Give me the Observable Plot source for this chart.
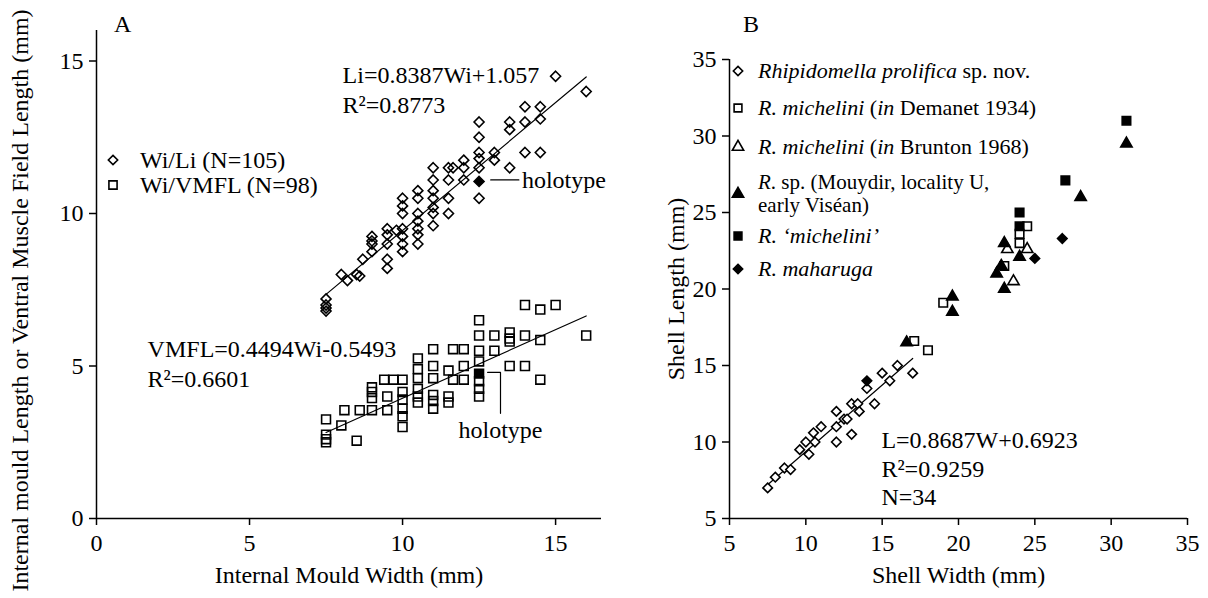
<!DOCTYPE html>
<html><head><meta charset="utf-8">
<script src="https://cdn.jsdelivr.net/npm/d3@7"></script>
<script src="https://cdn.jsdelivr.net/npm/@observablehq/plot@0.6"></script>
<style>
body{margin:0;background:#fff;}
#wrap{position:relative;width:1208px;height:598px;overflow:hidden;font-family:"Liberation Serif","Times New Roman",serif;color:#000;background:#fff;}
#wrap > svg{position:absolute;top:0;}
.t{position:absolute;white-space:nowrap;}
.sym{position:absolute;overflow:visible;}
</style></head><body><div id="wrap"></div>
<script>
// ---------- Panel A data: internal mould width vs length / VMFL ----------
const wiLi = [
[7.5,7.2],[7.5,7.0],[7.5,6.9],[7.5,6.8],
[8,8],[8.2,7.8],[8.5,8],[8.6,7.95],[8.7,8.5],
[9,9.25],[9,9.1],[9,9],[9,8.75],
[9.5,9.5],[9.5,9.3],[9.5,9],[9.5,8.5],[9.5,8.2],
[9.8,9.45],
[10,10.5],[10,10.25],[10,10],[10,9.5],[10,9.25],[10,9],[10,8.75],
[10.5,10.75],[10.5,10.5],[10.5,10],[10.5,9.75],[10.5,9.5],[10.5,9.3],[10.5,9],
[11,11.5],[11,11.1],[11,10.75],[11,10.5],[11,10.2],[11,10],[11,9.6],
[11.5,11.5],[11.5,11.1],[11.5,10.5],[11.5,10],[11.65,11.5],
[12,11.75],[12,11.5],[12,11.1],
[12.5,13],[12.5,12.5],[12.5,12],[12.5,11.8],[12.5,11.5],[12.5,10.5],
[13,12],[13,11.75],
[13.5,13],[13.5,12.75],[13.5,11.5],
[14,13.5],[14,13],[14,12],
[14.5,13.5],[14.5,13.1],[14.5,12],
[15,14.5],[16,14]
];
const wiVmfl = [
[7.5,3.25],[7.5,2.75],[7.5,2.6],[7.5,2.5],
[8,3.05],[8.5,2.55],
[8.1,3.55],[8.6,3.55],[9,3.55],[9.5,3.55],
[9,4.3],[9,4.15],[9,3.95],
[9.5,4],[9.4,4.55],[9.7,4.55],
[10,4.55],[10,4.15],[10,3.9],[10,3.6],[10,3.35],[10,3],
[10.5,5.25],[10.5,4.9],[10.5,4.6],[10.5,4.25],[10.5,4],[10.5,3.8],
[11,5.55],[11,5],[11,4.6],[11,4.05],[11,3.85],[11,3.6],
[11.5,4.85],[11.5,4],[11.5,3.8],[11.65,4.55],[11.65,5.55],
[12,5.55],[12,5],[12,4.55],
[12.5,6.5],[12.5,6],[12.5,5.5],[12.5,5.15],[12.5,4.5],[12.5,4.25],[12.5,4],
[13,6],[13,5.5],
[13.5,6.1],[13.5,5.9],[13.5,5.8],[13.5,5],
[14,7],[14,6],[14,5],
[14.5,6.85],[14.5,5.85],[14.5,4.55],
[15,7],[16,6]
];
const holotypeLi = [[12.5,11.05]];
const holotypeVmfl = [[12.5,4.75]];
const fitLi = {a:0.8387, b:1.057};
const fitVmfl = {a:0.4494, b:-0.5493};
const ticksA_x = [0,5,10,15];
const ticksA_y = [0,5,10,15];
const labelA_x = "Internal Mould Width (mm)";
const labelA_y = "Internal mould Length or Ventral Muscle Field Length (mm)";
const annotA = [
  {x:8.04, y:14.52, text:"Li=0.8387Wi+1.057"},
  {x:8.04, y:13.54, text:"R²=0.8773"},
  {x:13.9, y:11.1, text:"holotype"},
  {x:1.67, y:5.55, text:"VMFL=0.4494Wi-0.5493"},
  {x:1.67, y:4.55, text:"R²=0.6601"}
];
const annotA_mid = [{x:13.2, y:2.9, text:"holotype"}];
const leaderLi = [[12.88,11.1],[13.8,11.1]];
const leaderVmfl = [[12.78,4.79],[13.2,4.79],[13.2,3.45]];
const legendA = ["Wi/Li (N=105)", "Wi/VMFL (N=98)"];

// ---------- Panel B data: shell width vs shell length ----------
const prolifica = [
[7.5,7],[8,7.7],[8.6,8.3],[9,8.2],[9.6,9.5],[10,10],[10.2,9.2],[10.5,10.6],[10.6,10],
[11,11],[12,12],[12,11],[12,10],[12.5,11.5],[12.7,11.5],[13,10.5],[13,12.5],[13.4,12.5],
[13.5,12],[14,13.5],[14.5,12.5],[15,14.5],[15.5,14],[16,15],[17,14.5]
];
const demanet = [[17.1,16.6],[18,16],[19,19.1],[24.5,24.1],[24,23.6],[24,23],[23,21.5]];
const brunton = [[23.2,22.6],[24.5,22.6],[23.6,20.5]];
const mouydir = [[16.6,16.5],[19.6,19.5],[19.6,18.5],[23,23],[24,22.1],[22.8,21.5],[22.5,21],[23,20],[28,26],[31,29.5]];
const michelini = [[24,25],[24,24.1],[27,27.1],[31,31]];
const maharuga = [[14,14],[25,22],[26.8,23.3]];
const fitB = {a:0.8687, b:0.6923};
const ticksB = [5,10,15,20,25,30,35];
const labelB_x = "Shell Width (mm)";
const labelB_y = "Shell Length (mm)";
const annotB = [
  {x:14.95, y:10.1, text:"L=0.8687W+0.6923"},
  {x:14.95, y:8.2, text:"R²=0.9259"},
  {x:14.95, y:6.37, text:"N=34"}
];

// ---------- helpers ----------
const FONT = '"Liberation Serif","Times New Roman",serif';
const fitLine = (pts, f) => d3.extent(pts, d => d[0]).map(x => ({x, y: f.a * x + f.b}));
const X = d => d[0], Y = d => d[1];
const SW = 1.6;

const plotA = Plot.plot({
  width: 604, height: 598,
  marginLeft: 96, marginRight: 3, marginTop: 30, marginBottom: 80,
  x: {domain: [0, 16.5]},
  y: {domain: [0, 16]},
  style: {fontFamily: FONT, fontSize: "24px", background: "transparent", color: "black", overflow: "visible"},
  marks: [
    Plot.axisX({ticks: ticksA_x, tickSize: 7, tickPadding: 8, label: null, strokeWidth: 1.5, fontSize: 24}),
    Plot.axisY({ticks: ticksA_y, tickSize: 7, tickPadding: 6, label: null, strokeWidth: 1.5, fontSize: 24}),
    Plot.ruleX([0], {strokeWidth: 1.5}),
    Plot.ruleY([0], {strokeWidth: 1.5}),
    Plot.line(fitLine(wiLi, fitLi), {x: "x", y: "y", strokeWidth: 1.2}),
    Plot.line(fitLine(wiVmfl, fitVmfl), {x: "x", y: "y", strokeWidth: 1.2}),
    Plot.dot(wiLi, {x: X, y: Y, symbol: "diamond2", r: 4.5, fill: "none", stroke: "black", strokeWidth: SW}),
    Plot.dot(wiVmfl, {x: X, y: Y, symbol: "square", r: 5, fill: "none", stroke: "black", strokeWidth: SW}),
    Plot.dot(holotypeLi, {x: X, y: Y, symbol: "diamond2", r: 4.5, fill: "black", stroke: "black", strokeWidth: SW}),
    Plot.dot(holotypeVmfl, {x: X, y: Y, symbol: "square", r: 5, fill: "black", stroke: "black", strokeWidth: SW}),
    Plot.line(leaderLi, {x: X, y: Y, strokeWidth: 1.2}),
    Plot.line(leaderVmfl, {x: X, y: Y, strokeWidth: 1.2}),
    Plot.text(annotA, {x: "x", y: "y", text: "text", textAnchor: "start", fontSize: 24}),
    Plot.text(annotA_mid, {x: "x", y: "y", text: "text", textAnchor: "middle", fontSize: 24}),
    Plot.text([labelA_x], {text: d => d, frameAnchor: "bottom", textAnchor: "middle", dy: 64, fontSize: 24}),
    Plot.text([labelA_y], {text: d => d, frameAnchor: "left", textAnchor: "middle", dx: -76, dy: 26, rotate: -90, fontSize: 24})
  ]
});

const plotB = Plot.plot({
  width: 604, height: 598,
  marginLeft: 125, marginRight: 21, marginTop: 59, marginBottom: 80,
  x: {domain: [5, 35]},
  y: {domain: [5, 35]},
  style: {fontFamily: FONT, fontSize: "24px", background: "transparent", color: "black", overflow: "visible"},
  marks: [
    Plot.axisX({ticks: ticksB, tickSize: 7, tickPadding: 8, label: null, strokeWidth: 1.5, fontSize: 24}),
    Plot.axisY({ticks: ticksB, tickSize: 7, tickPadding: 6, label: null, strokeWidth: 1.5, fontSize: 24}),
    Plot.ruleX([5], {strokeWidth: 1.5}),
    Plot.ruleY([5], {strokeWidth: 1.5}),
    Plot.line(fitLine(prolifica, fitB), {x: "x", y: "y", strokeWidth: 1.2}),
    Plot.dot(prolifica, {x: X, y: Y, symbol: "diamond2", r: 4.3, fill: "white", stroke: "black", strokeWidth: SW}),
    Plot.dot(demanet, {x: X, y: Y, symbol: "square", r: 4.8, fill: "white", stroke: "black", strokeWidth: SW}),
    Plot.dot(brunton, {x: X, y: Y, symbol: "triangle", r: 4.2, fill: "white", stroke: "black", strokeWidth: SW}),
    Plot.dot(mouydir, {x: X, y: Y, symbol: "triangle", r: 4.2, fill: "black", stroke: "black", strokeWidth: SW}),
    Plot.dot(michelini, {x: X, y: Y, symbol: "square", r: 4.8, fill: "black", stroke: "black", strokeWidth: SW}),
    Plot.dot(maharuga, {x: X, y: Y, symbol: "diamond2", r: 4.3, fill: "black", stroke: "black", strokeWidth: SW}),
    Plot.text(annotB, {x: "x", y: "y", text: "text", textAnchor: "start", fontSize: 24}),
    Plot.text([labelB_x], {text: d => d, frameAnchor: "bottom", textAnchor: "middle", dy: 64, fontSize: 24}),
    Plot.text([labelB_y], {text: d => d, frameAnchor: "left", textAnchor: "middle", dx: -53, rotate: -90, fontSize: 24})
  ]
});

const wrap = document.getElementById("wrap");
plotA.style.left = "0px";
plotB.style.left = "604px";
wrap.appendChild(plotB);
wrap.appendChild(plotA);

// ---------- legends and panel letters (HTML overlay) ----------
const symTypes = {diamond: d3.symbolDiamond2, square: d3.symbolSquare, triangle: d3.symbolTriangle};
function addSymbol(type, filled, r, cx, cy) {
  const p = d3.symbol(symTypes[type], Math.PI * r * r)();
  const s = document.createElementNS("http://www.w3.org/2000/svg", "svg");
  s.setAttribute("class", "sym");
  s.setAttribute("width", 20); s.setAttribute("height", 20);
  s.setAttribute("viewBox", "-10 -10 20 20");
  s.style.left = (cx - 10) + "px"; s.style.top = (cy - 10) + "px";
  s.innerHTML = `<path d="${p}" fill="${filled ? "black" : "white"}" stroke="black" stroke-width="${SW}"/>`;
  wrap.appendChild(s);
}
function addText(html, left, cy, size) {
  const d = document.createElement("div");
  d.className = "t";
  d.style.left = left + "px";
  d.style.top = (cy - size * 0.55) + "px";
  d.style.fontSize = size + "px";
  d.style.lineHeight = (size * 1.1) + "px";
  d.innerHTML = html;
  wrap.appendChild(d);
}
addText("A", 114, 24, 24);
addText("B", 743, 24, 24);

addSymbol("diamond", false, 4.2, 113, 160);
addText(legendA[0], 140, 160, 24);
addSymbol("square", false, 4.6, 113, 185);
addText(legendA[1], 140, 185, 24);

const legendB = [
  {sym: "diamond", filled: false, cy: 71, lines: ["<i>Rhipidomella prolifica</i> sp. nov."]},
  {sym: "square", filled: false, cy: 108, lines: ["<i>R. michelini</i> (<i>in</i> Demanet 1934)"]},
  {sym: "triangle", filled: false, cy: 147, lines: ["<i>R. michelini</i> (<i>in</i> Brunton 1968)"]},
  {sym: "triangle", filled: true, cy: 194, lines: ["<i>R</i>. sp. (Mouydir, locality U,", "early Viséan)"]},
  {sym: "square", filled: true, cy: 236, lines: ["<i>R. ‘michelini’</i>"]},
  {sym: "diamond", filled: true, cy: 269, lines: ["<i>R. maharuga</i>"]}
];
legendB.forEach(it => {
  addSymbol(it.sym, it.filled, it.sym === "square" ? 4.4 : 4.2, 738, it.cy);
  if (it.lines.length === 2) {
    addText(it.lines[0], 758, it.cy - 11.5, 21);
    addText(it.lines[1], 758, it.cy + 11.5, 21);
  } else {
    addText(it.lines[0], 758, it.cy, 22);
  }
});
</script></body></html>
